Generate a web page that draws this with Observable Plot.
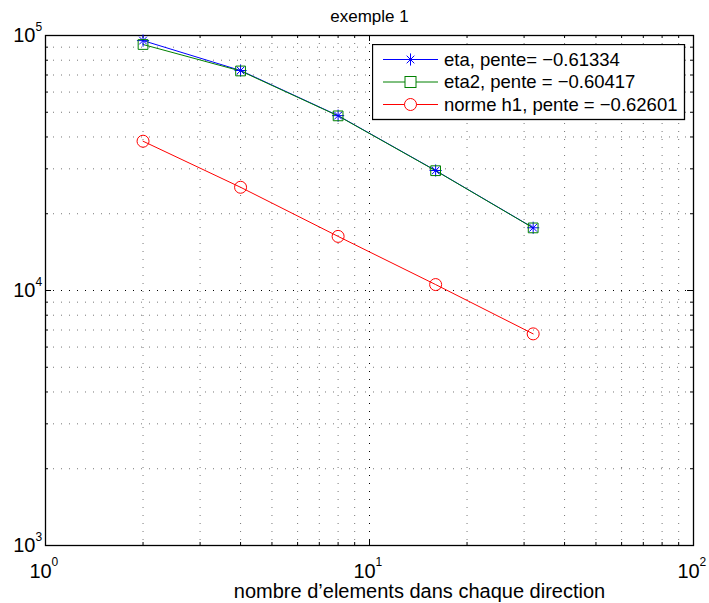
<!DOCTYPE html>
<html>
<head>
<meta charset="utf-8">
<script src="https://cdn.jsdelivr.net/npm/d3@7"></script>
<script src="https://cdn.jsdelivr.net/npm/@observablehq/plot@0.6"></script>
<style>
  html, body { margin: 0; padding: 0; background: #fff; }
  #wrap { position: relative; width: 709px; height: 603px; font-family: "Liberation Sans", Arial, Helvetica, sans-serif; }
  #legend { position: absolute; }
</style>
</head>
<body>
<div id="wrap"></div>
<script>
// ---- data ----
const xValues = [2, 4, 8, 16, 32];
const eta = [95500, 72900, 48500, 29550, 17620];
const eta2 = [92200, 72600, 48400, 29500, 17600];
const normeH1 = [38500, 25400, 16300, 10550, 6760];
const seriesNames = ["eta, pente= \u22120.61334", "eta2, pente = \u22120.60417", "norme h1, pente = \u22120.62601"];
const seriesColors = ["#0000ff", "#008000", "#ff0000"];
const titleText = "exemple 1";
const xLabelText = "nombre d\u2019elements dans chaque direction";
const xMajor = [1, 10, 100];
const yMajor = [1000, 10000, 100000];
const xMinor = [2, 3, 4, 5, 6, 7, 8, 9, 20, 30, 40, 50, 60, 70, 80, 90];
const yMinor = [2000, 3000, 4000, 5000, 6000, 7000, 8000, 9000, 20000, 30000, 40000, 50000, 60000, 70000, 80000, 90000];

const seriesValues = [eta, eta2, normeH1];
const rows = [];
seriesValues.forEach((vals, i) => vals.forEach((v, j) => rows.push({series: seriesNames[i], x: xValues[j], y: v})));
const rowsOf = i => rows.filter(d => d.series === seriesNames[i]);

const W = 709, H = 603;
const mL = 45, mR = 16, mT = 35, mB = 58;
const fw = W - mL - mR, fh = H - mT - mB;
const majLen = 6, minLen = 3;
const font = "Liberation Sans, Arial, Helvetica, sans-serif";

const gridDash = "1,7";

const chart = Plot.plot({
  width: W, height: H,
  marginLeft: mL, marginRight: mR, marginTop: mT, marginBottom: mB,
  style: {fontFamily: font, background: "white", color: "black"},
  x: {type: "log", domain: [1, 100], axis: null},
  y: {type: "log", domain: [1000, 100000], axis: null},
  color: {domain: seriesNames, range: seriesColors},
  marks: [
    // grid
    Plot.ruleX(xMinor, {stroke: "#777", strokeDasharray: gridDash, strokeWidth: 1}),
    Plot.ruleY(yMinor, {stroke: "#777", strokeDasharray: gridDash, strokeWidth: 1}),
    Plot.ruleX(xMajor, {stroke: "#000", strokeDasharray: gridDash, strokeWidth: 1}),
    Plot.ruleY(yMajor, {stroke: "#000", strokeDasharray: gridDash, strokeWidth: 1}),
    // ticks (inward, all four sides)
    Plot.ruleX(xMajor, {stroke: "#000", insetTop: fh - majLen}),
    Plot.ruleX(xMajor, {stroke: "#000", insetBottom: fh - majLen}),
    Plot.ruleX(xMinor, {stroke: "#000", insetTop: fh - minLen}),
    Plot.ruleX(xMinor, {stroke: "#000", insetBottom: fh - minLen}),
    Plot.ruleY(yMajor, {stroke: "#000", insetRight: fw - majLen}),
    Plot.ruleY(yMajor, {stroke: "#000", insetLeft: fw - majLen}),
    Plot.ruleY(yMinor, {stroke: "#000", insetRight: fw - minLen}),
    Plot.ruleY(yMinor, {stroke: "#000", insetLeft: fw - minLen}),
    Plot.frame({stroke: "#000", strokeWidth: 1.3}),
    // lines
    Plot.line(rowsOf(0), {x: "x", y: "y", stroke: "series", strokeWidth: 1}),
    Plot.line(rowsOf(1), {x: "x", y: "y", stroke: "series", strokeWidth: 1}),
    Plot.line(rowsOf(2), {x: "x", y: "y", stroke: "series", strokeWidth: 1}),
    // markers
    Plot.dot(rowsOf(0), {x: "x", y: "y", stroke: "series", symbol: "plus", r: 4, strokeWidth: 1}),
    Plot.dot(rowsOf(0), {x: "x", y: "y", stroke: "series", symbol: "times", r: 3.6, strokeWidth: 1}),
    Plot.dot(rowsOf(1), {x: "x", y: "y", stroke: "series", symbol: "square", r: 5.5, fill: "none", strokeWidth: 1}),
    Plot.dot(rowsOf(2), {x: "x", y: "y", stroke: "series", symbol: "circle", r: 6, fill: "none", strokeWidth: 1}),
    // y tick labels
    Plot.text(yMajor, {x: () => 1, y: d => d, text: () => "10", textAnchor: "end", dx: -10, fontSize: 20, fill: "#000"}),
    Plot.text(yMajor, {x: () => 1, y: d => d, text: d => String(Math.round(Math.log10(d))), textAnchor: "start", dx: -10, dy: -8, fontSize: 12, fill: "#000"}),
    // x tick labels
    Plot.text(xMajor, {x: d => d, y: () => 1000, text: () => "10", textAnchor: "middle", dx: -5, dy: 26, fontSize: 20, fill: "#000"}),
    Plot.text(xMajor, {x: d => d, y: () => 1000, text: d => String(Math.round(Math.log10(d))), textAnchor: "start", dx: 6, dy: 17, fontSize: 12, fill: "#000"}),
    // title & x label
    Plot.text([titleText], {frameAnchor: "top", text: d => d, lineAnchor: "middle", dy: -19, fontSize: 17, fill: "#000"}),
    Plot.text([xLabelText], {frameAnchor: "bottom", text: d => d, lineAnchor: "middle", dx: 50, dy: 46, fontSize: 20, fill: "#000"})
  ]
});

const wrap = document.getElementById("wrap");
wrap.appendChild(chart);

// ---- legend (overlay inside the axes) ----
const lg = {left: 372, top: 44, width: 312, height: 75, rowH: 22.5, x0: 11, x1: 66, tx: 72};
const legendDiv = document.createElement("div");
legendDiv.id = "legend";
legendDiv.style.left = lg.left + "px";
legendDiv.style.top = lg.top + "px";
wrap.appendChild(legendDiv);
const svg = d3.select(legendDiv).append("svg").attr("width", lg.width + 2).attr("height", lg.height + 2);
svg.append("rect").attr("x", 0.5).attr("y", 0.5).attr("width", lg.width).attr("height", lg.height)
  .attr("fill", "white").attr("stroke", "black").attr("stroke-width", 1.3);
const symbols = ["asterisk", "square", "circle"];
seriesNames.forEach((name, i) => {
  const cy = 15.5 + i * lg.rowH;
  const g = svg.append("g").attr("stroke", seriesColors[i]).attr("fill", "none");
  g.append("line").attr("x1", lg.x0).attr("x2", lg.x1).attr("y1", cy).attr("y2", cy);
  const mx = (lg.x0 + lg.x1) / 2;
  if (symbols[i] === "asterisk") {
    g.append("path").attr("d", d3.symbol(d3.symbolPlus, 50)()).attr("transform", `translate(${mx},${cy})`);
    g.append("path").attr("d", d3.symbol(d3.symbolTimes, 40)()).attr("transform", `translate(${mx},${cy})`);
  } else if (symbols[i] === "square") {
    g.append("rect").attr("x", mx - 5.5).attr("y", cy - 5.5).attr("width", 11).attr("height", 11).attr("fill", "white");
  } else {
    g.append("circle").attr("cx", mx).attr("cy", cy).attr("r", 6).attr("fill", "white");
  }
  svg.append("text").attr("x", lg.tx).attr("y", cy).attr("dy", "0.35em")
    .attr("font-family", font).attr("font-size", 18.5).attr("fill", "black").text(name);
});
</script>
</body>
</html>
